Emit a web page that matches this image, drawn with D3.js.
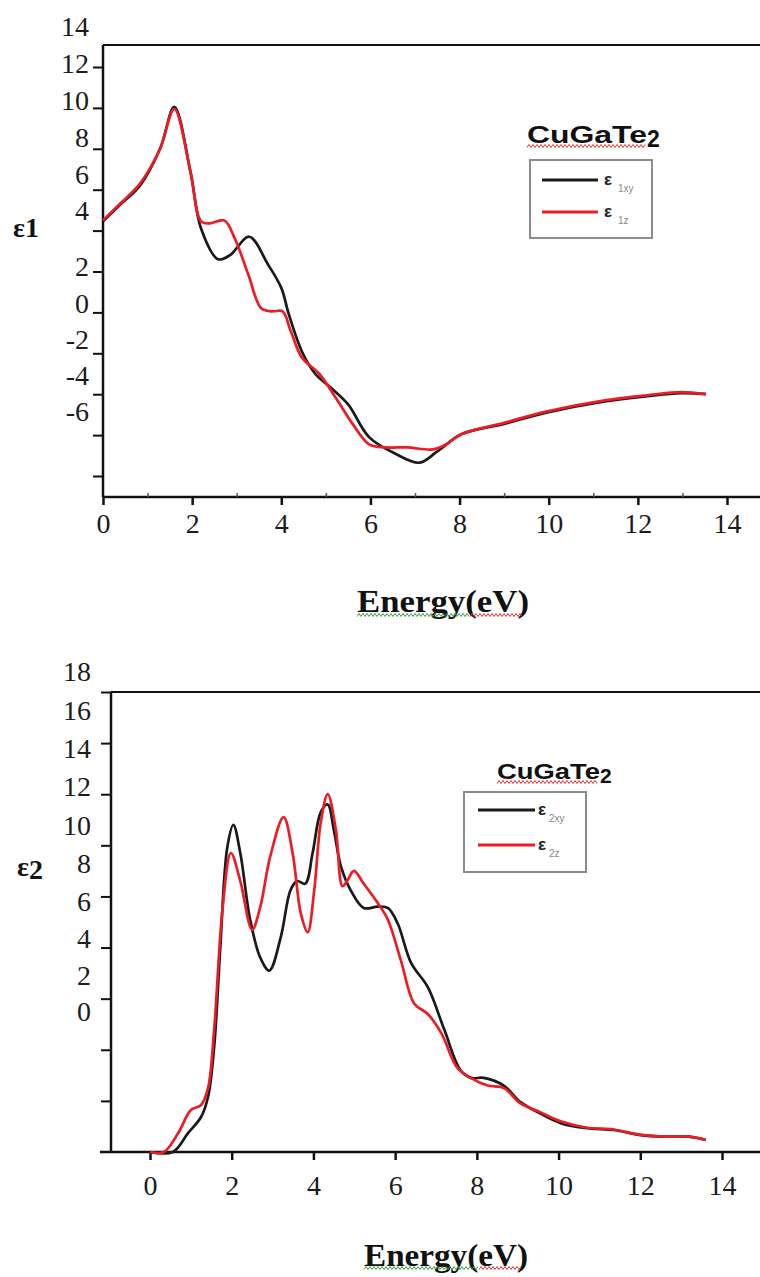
<!DOCTYPE html>
<html>
<head>
<meta charset="utf-8">
<script src="https://cdn.jsdelivr.net/npm/d3@7"></script>
<style>
body { margin:0; background:#fff; }
svg { display:block; }
.tick text { font-family:"Liberation Serif","Times New Roman",serif; font-size:28px; fill:#1c1c1c; }
</style>
</head>
<body>
<svg id="chart" width="760" height="1277"></svg>
<script>
// ---- epsilon 1 (real part) ----
var e1xyEnergy = [0, 0.4, 0.83, 1.28, 1.6, 1.96, 2.2, 2.58, 2.85, 3.28, 3.7, 4.0, 4.17, 4.46, 4.76, 5.12, 5.5, 5.97, 6.55, 7.1, 7.5, 8.05, 9.0, 9.94, 11.26, 12.2, 12.97, 13.53];
var e1xyValue  = [4.45, 5.3, 6.2, 8.0, 10.05, 6.9, 4.1, 2.6, 2.8, 3.7, 2.35, 1.2, -0.1, -1.9, -3.0, -3.7, -4.5, -6.1, -6.9, -7.35, -6.8, -5.95, -5.45, -4.9, -4.35, -4.1, -3.95, -4.0];
var e1zEnergy  = [0, 0.4, 0.83, 1.28, 1.6, 1.96, 2.2, 2.39, 2.72, 2.96, 3.26, 3.55, 3.79, 4.03, 4.21, 4.46, 4.85, 5.23, 5.6, 5.97, 6.36, 6.83, 7.4, 7.7, 8.05, 9.0, 9.94, 11.26, 12.2, 12.97, 13.53];
var e1zValue   = [4.5, 5.35, 6.3, 8.0, 9.95, 6.9, 4.45, 4.35, 4.5, 3.6, 1.85, 0.2, 0.05, 0.05, -0.9, -2.2, -3.0, -4.2, -5.45, -6.45, -6.6, -6.6, -6.7, -6.45, -5.95, -5.4, -4.85, -4.3, -4.05, -3.9, -4.0];

// ---- epsilon 2 (imaginary part) ----
var e2xyEnergy = [0, 0.56, 0.93, 1.25, 1.42, 1.57, 1.72, 1.89, 2.04, 2.21, 2.45, 2.7, 2.92, 3.2, 3.44, 3.6, 3.8, 3.98, 4.18, 4.35, 4.5, 4.67, 4.91, 5.23, 5.57, 5.82, 6.06, 6.39, 6.8, 7.2, 7.6, 7.85, 8.17, 8.66, 9.07, 9.56, 10.05, 10.7, 11.35, 12.0, 12.66, 13.2, 13.6];
var e2xyValue  = [0, 0, 0.74, 1.37, 2.15, 4.1, 8.0, 11.9, 12.8, 11.7, 9.1, 7.6, 7.1, 8.4, 10.25, 10.6, 10.5, 11.7, 13.3, 13.6, 12.6, 11.2, 10.25, 9.55, 9.6, 9.55, 8.95, 7.4, 6.45, 4.8, 3.2, 2.9, 2.9, 2.6, 1.95, 1.5, 1.13, 0.93, 0.86, 0.66, 0.6, 0.6, 0.47];
var e2zEnergy  = [0, 0.34, 0.69, 1.0, 1.25, 1.42, 1.57, 1.78, 1.98, 2.21, 2.5, 2.7, 2.94, 3.27, 3.49, 3.69, 3.86, 4.02, 4.18, 4.35, 4.55, 4.71, 4.84, 4.99, 5.23, 5.57, 5.82, 6.14, 6.47, 6.8, 7.13, 7.52, 7.85, 8.26, 8.66, 9.07, 9.56, 10.05, 10.7, 11.35, 12.0, 12.66, 13.2, 13.6];
var e2zValue   = [0, 0, 0.74, 1.64, 1.84, 2.5, 4.8, 9.6, 11.7, 10.6, 8.7, 9.6, 11.55, 13.1, 11.7, 9.35, 8.6, 10.25, 12.9, 14.0, 12.6, 10.4, 10.65, 11.0, 10.5, 9.75, 9.1, 7.5, 5.8, 5.4, 4.65, 3.3, 2.9, 2.6, 2.5, 1.9, 1.55, 1.2, 0.95, 0.88, 0.68, 0.6, 0.6, 0.47];

// ---- ticks and labels ----
var xTickValues   = [0, 2, 4, 6, 8, 10, 12, 14];
var xMinorValues  = [1, 3, 5, 7, 9, 11, 13];
var y1TickValues  = [-8, -6, -4, -2, 0, 2, 4, 6, 8, 10, 12];
var y1LabelValues = [14, 12, 10, 8, 6, 4, 2, 0, -2, -4, -6];
var y2TickValues  = [2, 4, 6, 8, 10, 12, 14, 16, 18];
var y2LabelValues = [18, 16, 14, 12, 10, 8, 6, 4, 2, 0];
var compound = "CuGaTe";
var legend1 = [{sym:"ε", sub:"1xy"}, {sym:"ε", sub:"1z"}];
var legend2 = [{sym:"ε", sub:"2xy"}, {sym:"ε", sub:"2z"}];

var BLACK = "#1a1a1a", RED = "#ec1c24";
var plain = function(d) { return String(d); };   // keep the ascii hyphen as minus

var svg = d3.select("#chart");

var zip = function(es, vs) {
    return es.map(function(e, i) { return {e:e, v:vs[i]}; });
};

var squiggle = function(x0, x1, y, color) {
    var pts = d3.range(x0, x1 + 0.1, 2).map(function(x, i) { return [x, y + (i % 2 ? -1.5 : 1.5)]; });
    svg.append("path").attr("d", d3.line()(pts))
        .attr("fill", "none").attr("stroke", color).attr("stroke-width", 1);
};

var drawLegend = function(items, box, titleX, titleY, titleLen, titleSize, lineX0, lineX1, rowY, symX, subX) {
    svg.append("text")
        .attr("x", titleX).attr("y", titleY)
        .attr("font-family", "'Liberation Sans', Arial, sans-serif")
        .attr("font-weight", "bold").attr("font-size", titleSize)
        .attr("textLength", titleLen).attr("lengthAdjust", "spacingAndGlyphs")
        .attr("fill", "#111").text(compound);
    svg.append("text")
        .attr("x", titleX + titleLen).attr("y", titleY + 4)
        .attr("font-family", "'Liberation Sans', Arial, sans-serif")
        .attr("font-weight", "bold").attr("font-size", titleSize - 1)
        .attr("fill", "#111").text("2");
    squiggle(titleX, titleX + titleLen - 2, titleY + 3, "#d83030");

    svg.append("rect")
        .attr("x", box.x).attr("y", box.y).attr("width", box.w).attr("height", box.h)
        .attr("fill", "#fff").attr("stroke", "#8c8c8c").attr("stroke-width", 2);

    items.forEach(function(d, i) {
        var yy = rowY[i];
        svg.append("line")
            .attr("x1", lineX0).attr("x2", lineX1).attr("y1", yy).attr("y2", yy)
            .attr("stroke", i === 0 ? BLACK : RED).attr("stroke-width", 3);
        svg.append("text")
            .attr("x", symX).attr("y", yy + 5)
            .attr("font-family", "'Liberation Sans', Arial, sans-serif")
            .attr("font-weight", "bold").attr("font-size", 17)
            .attr("fill", "#222").text(d.sym);
        svg.append("text")
            .attr("x", subX).attr("y", yy + 12)
            .attr("font-family", "'Liberation Sans', Arial, sans-serif")
            .attr("font-size", 10).attr("fill", "#888").text(d.sub);
    });
};

// ================= panel 1 : epsilon 1 =================
var x1 = d3.scaleLinear().domain([0, 14]).range([103, 727]);
var y1 = d3.scaleLinear().domain([-8, 12]).range([476, 67]);
var y1Lab = d3.scaleLinear().domain([-6, 2, 4, 14]).range([412, 267, 211, 27]);
var p1 = {left:103, top:45, bottom:497};

svg.append("line").attr("x1", p1.left).attr("x2", 770).attr("y1", p1.top).attr("y2", p1.top)
    .attr("stroke", "#111").attr("stroke-width", 2);
svg.append("line").attr("x1", p1.left).attr("x2", 770).attr("y1", p1.bottom).attr("y2", p1.bottom)
    .attr("stroke", "#111").attr("stroke-width", 2.5);
svg.append("line").attr("x1", p1.left).attr("x2", p1.left).attr("y1", p1.top).attr("y2", p1.bottom)
    .attr("stroke", "#111").attr("stroke-width", 2.5);

var xAxis1 = svg.append("g").attr("transform", "translate(0," + p1.bottom + ")")
    .call(d3.axisBottom(x1).tickValues(xTickValues).tickSize(8).tickPadding(8).tickFormat(plain));
xAxis1.select(".domain").remove();
xAxis1.selectAll(".tick line").attr("stroke", "#111").attr("stroke-width", 2.5);

var xMinor1 = svg.append("g").attr("transform", "translate(0," + p1.bottom + ")")
    .call(d3.axisBottom(x1).tickValues(xMinorValues).tickSize(-4).tickFormat(""));
xMinor1.select(".domain").remove();
xMinor1.selectAll(".tick line").attr("stroke", "#555").attr("stroke-width", 1.5);

var yAxis1 = svg.append("g").attr("transform", "translate(" + p1.left + ",0)")
    .call(d3.axisLeft(y1).tickValues(y1TickValues).tickSize(10).tickFormat(""));
yAxis1.select(".domain").remove();
yAxis1.selectAll(".tick line").attr("stroke", "#111").attr("stroke-width", 2);

var yLab1 = svg.append("g").attr("transform", "translate(89,0)")
    .call(d3.axisLeft(y1Lab).tickValues(y1LabelValues).tickSize(0).tickPadding(0).tickFormat(plain));
yLab1.select(".domain").remove();

var line1 = d3.line().x(function(d) { return x1(d.e); }).y(function(d) { return y1(d.v); })
    .curve(d3.curveCatmullRom.alpha(0.5));

svg.append("path").datum(zip(e1xyEnergy, e1xyValue)).attr("d", line1)
    .attr("fill", "none").attr("stroke", BLACK).attr("stroke-width", 2.7);
svg.append("path").datum(zip(e1zEnergy, e1zValue)).attr("d", line1)
    .attr("fill", "none").attr("stroke", RED).attr("stroke-width", 2.7);

svg.append("text").attr("x", 13).attr("y", 237)
    .attr("font-family", "'Liberation Serif', 'Times New Roman', serif")
    .attr("font-weight", "bold").attr("font-size", 28).attr("fill", "#111").text("ε1");

svg.append("text").attr("x", 443).attr("y", 612).attr("text-anchor", "middle")
    .attr("font-family", "'Liberation Serif', 'Times New Roman', serif")
    .attr("font-weight", "bold").attr("font-size", 31)
    .attr("textLength", 172).attr("lengthAdjust", "spacingAndGlyphs")
    .attr("fill", "#111").text("Energy(eV)");
squiggle(357, 470, 615, "#3c9a3c");
squiggle(470, 522, 615, "#d83030");

drawLegend(legend1, {x:530, y:160, w:122, h:78}, 527, 143, 120, 24, 542, 598, [180, 212], 604, 618);

// ================= panel 2 : epsilon 2 =================
var x2 = d3.scaleLinear().domain([0, 14]).range([150, 722]);
var y2 = d3.scaleLinear().domain([0, 18]).range([1152, 692]);
var y2Lab = d3.scaleLinear().domain([0, 6, 18]).range([1012, 902, 672]);
var p2 = {left:111, top:692, bottom:1152};

svg.append("line").attr("x1", p2.left).attr("x2", 770).attr("y1", p2.top).attr("y2", p2.top)
    .attr("stroke", "#111").attr("stroke-width", 2);
svg.append("line").attr("x1", p2.left - 11).attr("x2", 770).attr("y1", p2.bottom).attr("y2", p2.bottom)
    .attr("stroke", "#111").attr("stroke-width", 2.5);
svg.append("line").attr("x1", p2.left).attr("x2", p2.left).attr("y1", p2.top).attr("y2", p2.bottom)
    .attr("stroke", "#111").attr("stroke-width", 2.5);

var xAxis2 = svg.append("g").attr("transform", "translate(0," + p2.bottom + ")")
    .call(d3.axisBottom(x2).tickValues(xTickValues).tickSize(8).tickPadding(15).tickFormat(plain));
xAxis2.select(".domain").remove();
xAxis2.selectAll(".tick line").attr("stroke", "#111").attr("stroke-width", 2.5);

var yAxis2 = svg.append("g").attr("transform", "translate(" + p2.left + ",0)")
    .call(d3.axisLeft(y2).tickValues(y2TickValues).tickSize(10).tickFormat(""));
yAxis2.select(".domain").remove();
yAxis2.selectAll(".tick line").attr("stroke", "#111").attr("stroke-width", 2);

var yLab2 = svg.append("g").attr("transform", "translate(91,0)")
    .call(d3.axisLeft(y2Lab).tickValues(y2LabelValues).tickSize(0).tickPadding(0).tickFormat(plain));
yLab2.select(".domain").remove();

var line2 = d3.line().x(function(d) { return x2(d.e); }).y(function(d) { return y2(d.v); })
    .curve(d3.curveCatmullRom.alpha(0.5));

svg.append("path").datum(zip(e2xyEnergy, e2xyValue)).attr("d", line2)
    .attr("fill", "none").attr("stroke", BLACK).attr("stroke-width", 2.7);
svg.append("path").datum(zip(e2zEnergy, e2zValue)).attr("d", line2)
    .attr("fill", "none").attr("stroke", RED).attr("stroke-width", 2.7);

var eps2 = svg.append("text").attr("x", 17).attr("y", 876)
    .attr("font-family", "'Liberation Serif', 'Times New Roman', serif")
    .attr("font-weight", "bold").attr("font-size", 28).attr("fill", "#111");
eps2.append("tspan").text("ε");
eps2.append("tspan").attr("dy", 3).text("2");

svg.append("text").attr("x", 446).attr("y", 1266).attr("text-anchor", "middle")
    .attr("font-family", "'Liberation Serif', 'Times New Roman', serif")
    .attr("font-weight", "bold").attr("font-size", 31)
    .attr("textLength", 164).attr("lengthAdjust", "spacingAndGlyphs")
    .attr("fill", "#111").text("Energy(eV)");
squiggle(364, 479, 1268, "#3c9a3c");
squiggle(479, 522, 1268, "#d83030");

drawLegend(legend2, {x:464, y:792, w:122, h:80}, 497, 779, 103, 22, 478, 535, [810, 845], 538, 549);
</script>
</body>
</html>
